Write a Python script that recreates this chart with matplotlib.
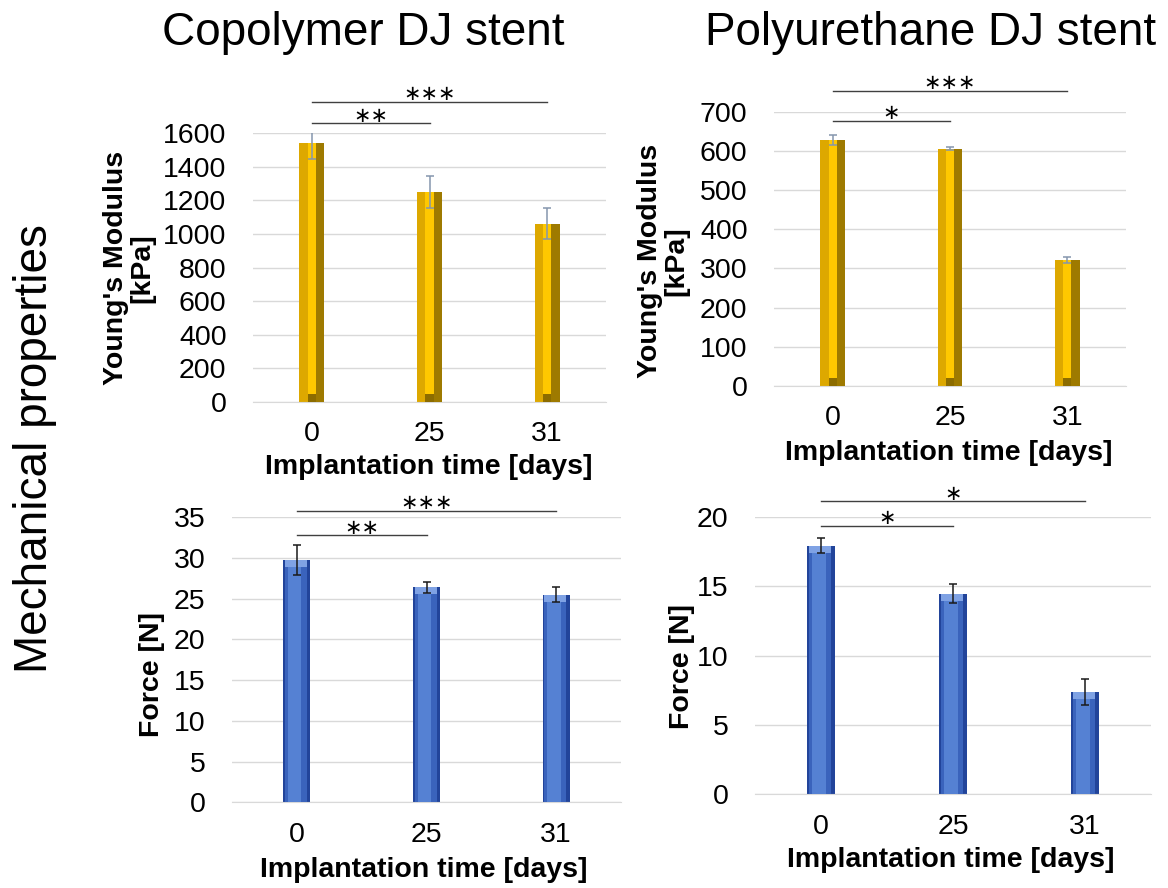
import numpy as np
import matplotlib.pyplot as plt

plt.rcParams['font.family'] = ['Liberation Sans', 'DejaVu Sans']

W = 1168
H = 888

days = ["0", "25", "31"]

# Young's modulus [kPa]
copolymer_modulus = [1540, 1250, 1060]
copolymer_modulus_err = [95, 96, 93]
pu_modulus = [628, 606, 322]
pu_modulus_err = [13, 5, 8]

# Force [N]
copolymer_force = [29.8, 26.4, 25.5]
copolymer_force_err = [1.85, 0.7, 0.95]
pu_force = [17.9, 14.45, 7.37]
pu_force_err = [0.55, 0.7, 0.95]

# significance brackets: (from, to, height, label)
copolymer_modulus_sig = [(0, 2, 1786, "***"), (0, 1, 1658, "**")]
pu_modulus_sig = [(0, 2, 754, "***"), (0, 1, 676, "*")]
copolymer_force_sig = [(0, 2, 35.8, "***"), (0, 1, 32.8, "**")]
pu_force_sig = [(0, 2, 21.1, "*"), (0, 1, 19.35, "*")]


def px_axes(fig, left, top, right, bottom):
    return fig.add_axes([left / W, (H - bottom) / H, (right - left) / W, (bottom - top) / H])


def gold_bars(ax, x, values, width, ymax):
    bev = ymax * 0.03
    v = np.array(values)
    ax.bar(x, values, width, color="#DDA800", zorder=2)
    ax.bar(x + width / 3, values, width / 3, color="#9E7A00", zorder=3)
    ax.bar(x, v - bev, width / 3, bottom=bev, color="#FFC800", zorder=3)
    ax.bar(x, [bev] * len(x), width / 3, color="#8C6C00", zorder=3)


def blue_bars(ax, x, values, width, ymax):
    v = np.array(values)
    ax.bar(x, values, width, color="#22449A", zorder=2)
    ax.bar(x - width * 0.03, values, width * 0.8, color="#3A63BC", zorder=3)
    ax.bar(x - width * 0.08, values, width * 0.5, color="#5581D3", zorder=3)
    cap = ymax * 0.025
    ax.bar(x - width * 0.03, [cap] * len(x), width * 0.8, bottom=v - cap, color="#7FA2E4", zorder=3)


def plot_panel(ax, values, errors, ymax, step, sig, style):
    x = np.arange(len(days))
    width = 0.21
    if style == "gold":
        gold_bars(ax, x, values, width, ymax)
        ecolor = "#8596AD"
    else:
        blue_bars(ax, x, values, width, ymax)
        ecolor = "#1A1A1A"
    ax.errorbar(x, values, yerr=errors, fmt="none", ecolor=ecolor, elinewidth=1.1,
                capsize=3, capthick=1.1, zorder=4)
    ax.set_xlim(-0.5, 2.5)
    ax.set_ylim(0, ymax)
    ax.set_yticks(np.arange(0, ymax + step / 2, step))
    ax.set_xticks(x)
    ax.set_xticklabels(days)
    ax.grid(True, axis="y", color="#D9D9D9", linewidth=1)
    ax.set_axisbelow(True)
    for s in ["top", "right", "left"]:
        ax.spines[s].set_visible(False)
    ax.spines["bottom"].set_color("#D9D9D9")
    ax.tick_params(axis="both", length=0, labelsize=20.5)
    ax.tick_params(axis="y", pad=19)
    ax.tick_params(axis="x", pad=14)
    for i, j, h, lab in sig:
        ax.plot([i, j], [h, h], color="#404040", linewidth=1, clip_on=False, zorder=5)
        stars = lab.replace("*", "\u2217")
        ax.annotate(stars, xy=((i + j) / 2, h), xytext=(0, 5.5), textcoords="offset points",
                    ha="center", va="center", fontsize=15, family="DejaVu Sans",
                    annotation_clip=False)


fig = plt.figure(figsize=(W / 100, H / 100), dpi=100)

ax1 = px_axes(fig, 253, 133, 606, 402)
plot_panel(ax1, copolymer_modulus, copolymer_modulus_err, 1600, 200, copolymer_modulus_sig, "gold")
ax2 = px_axes(fig, 774, 111.7, 1126, 386)
plot_panel(ax2, pu_modulus, pu_modulus_err, 700, 100, pu_modulus_sig, "gold")
ax3 = px_axes(fig, 232, 517.3, 621, 802.3)
plot_panel(ax3, copolymer_force, copolymer_force_err, 35, 5, copolymer_force_sig, "blue")
ax4 = px_axes(fig, 755, 516.7, 1151, 794.3)
plot_panel(ax4, pu_force, pu_force_err, 20, 5, pu_force_sig, "blue")


def ftext(x, y, s, **kw):
    fig.text(x / W, 1 - y / H, s, **kw)


ftext(363, 33, "Copolymer DJ stent", fontsize=33, ha="center", va="center")
ftext(931, 33, "Polyurethane DJ stent", fontsize=33, ha="center", va="center")
ftext(35, 449, "Mechanical properties", fontsize=33, rotation=90, ha="center", va="center")

ftext(129, 268, "Young's Modulus\n[kPa]", fontsize=20.5, fontweight="bold", rotation=90,
      ha="center", va="center", multialignment="center", linespacing=1.0)
ftext(663, 261, "Young's Modulus\n[kPa]", fontsize=20.5, fontweight="bold", rotation=90,
      ha="center", va="center", multialignment="center", linespacing=1.0)
ftext(152, 674, "Force [N]", fontsize=20.5, fontweight="bold", rotation=90, ha="center", va="center")
ftext(682, 666, "Force [N]", fontsize=20.5, fontweight="bold", rotation=90, ha="center", va="center")

ftext(429, 467, "Implantation time [days]", fontsize=20.5, fontweight="bold", ha="center", va="center")
ftext(949, 453, "Implantation time [days]", fontsize=20.5, fontweight="bold", ha="center", va="center")
ftext(424, 870, "Implantation time [days]", fontsize=20.5, fontweight="bold", ha="center", va="center")
ftext(951, 860, "Implantation time [days]", fontsize=20.5, fontweight="bold", ha="center", va="center")

plt.savefig("out.png", dpi=100)
